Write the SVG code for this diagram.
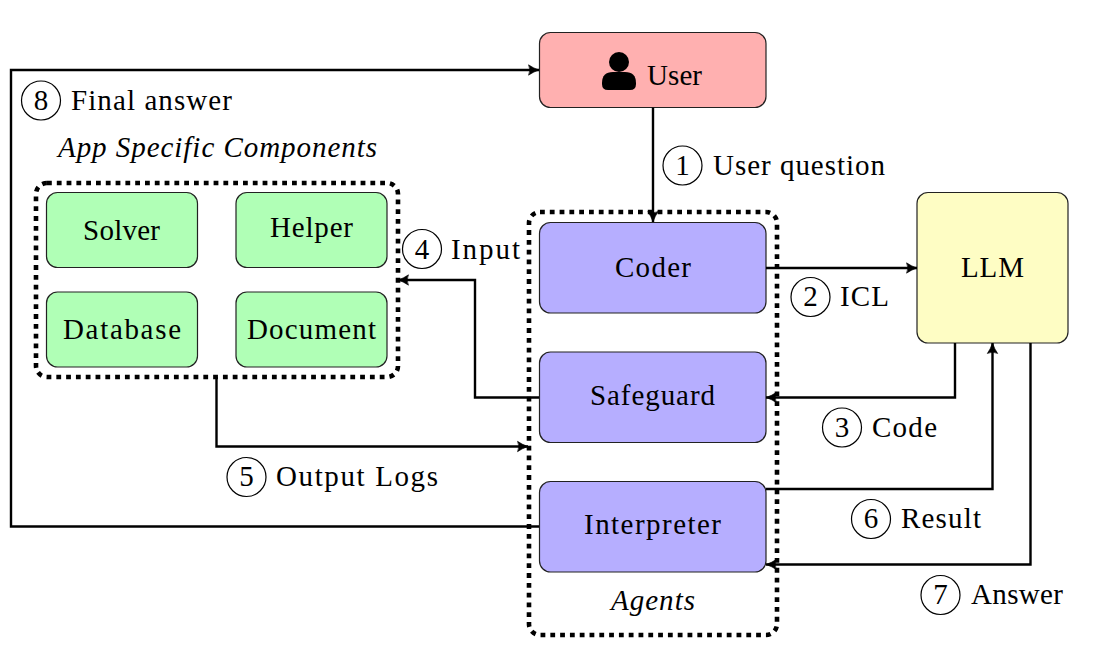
<svg xmlns="http://www.w3.org/2000/svg" width="1096" height="652" viewBox="0 0 1096 652">
<style>
text{font-family:"Liberation Serif","Times New Roman",serif;font-size:29px;fill:#000}
.i{font-style:italic}
.m{text-anchor:middle}
.n{stroke:#222;stroke-width:1.2}
.u{fill:#ffb0b0}.a{fill:#b6aeff}.g{fill:#b0ffb6}.l{fill:#fefdc4}
.d{fill:none;stroke:#000;stroke-width:4.6;stroke-dasharray:4.8 5}
.c{fill:none;stroke:#000;stroke-width:2.4;marker-end:url(#h)}
.b{fill:#fff;stroke:#000;stroke-width:1.2}
</style>
<defs>
<marker id="h" markerUnits="userSpaceOnUse" markerWidth="14" markerHeight="14" refX="11" refY="7" orient="auto">
<path d="M0.5 1.8Q5 5 11 7Q5 9 0.5 12.200Q3.200 7 0.5 1.800Z" fill="#000" stroke="#000" stroke-width="0.6"/>
</marker>
</defs>
<g id="agents-group"><rect class="d" x="529" y="212" width="248" height="423" rx="11"/><text class="i" x="611" y="610" textLength="84">Agents</text></g>
<g id="app-group"><rect class="d" x="36" y="183" width="362" height="194" rx="11"/><text class="i" x="58" y="157" textLength="319">App Specific Components</text></g>
<g id="user"><rect class="n u" x="539.500" y="32.500" width="226.500" height="75" rx="11"/><circle cx="619" cy="62" r="10"/><path d="M602 84V83Q602 72 613 72H625Q636 72 636 83V84Q636 90 630 90H608Q602 90 602 84Z"/><text x="647" y="85" textLength="55">User</text></g>
<g id="coder"><rect class="n a" x="539.500" y="222.500" width="226.500" height="90.500" rx="11"/><text x="615" y="277" textLength="76">Coder</text></g>
<g id="safeguard"><rect class="n a" x="539.500" y="352" width="226.500" height="90.500" rx="11"/><text x="590" y="405" textLength="125">Safeguard</text></g>
<g id="interpreter"><rect class="n a" x="539.500" y="481.500" width="226.500" height="90.500" rx="11"/><text x="584" y="534" textLength="137">Interpreter</text></g>
<g id="llm"><rect class="n l" x="917" y="192.500" width="151" height="150.500" rx="11"/><text x="961" y="277" textLength="63">LLM</text></g>
<g id="solver"><rect class="n g" x="46.500" y="192.500" width="151" height="75" rx="11"/><text x="83" y="240" textLength="77">Solver</text></g>
<g id="helper"><rect class="n g" x="236" y="192.500" width="151" height="75" rx="11"/><text x="270" y="237" textLength="83">Helper</text></g>
<g id="database"><rect class="n g" x="46.500" y="292" width="151" height="75" rx="11"/><text x="63" y="339" textLength="118">Database</text></g>
<g id="document"><rect class="n g" x="236" y="292" width="151" height="75" rx="11"/><text x="247" y="339" textLength="129">Document</text></g>
<g id="connectors">
<path class="c" d="M653 107.500V222"/>
<path class="c" d="M766 268H917"/>
<path class="c" d="M955 343V397.500H766"/>
<path class="c" d="M539 397.500H475V280H398"/>
<path class="c" d="M216.500 377V446.500H528"/>
<path class="c" d="M766 489H992.500V343"/>
<path class="c" d="M1030.500 343V564.500H766"/>
<path class="c" d="M539 526.500H11V70H539"/>
</g>
<g id="label-1"><circle class="b" cx="682.500" cy="165.500" r="19.500"/><text class="m" x="682.500" y="175">1</text><text x="713" y="175" textLength="172">User question</text></g>
<g id="label-2"><circle class="b" cx="810.500" cy="297" r="19.500"/><text class="m" x="810.500" y="306">2</text><text x="840" y="306" textLength="49">ICL</text></g>
<g id="label-3"><circle class="b" cx="842" cy="427.500" r="19.500"/><text class="m" x="842" y="437">3</text><text x="872" y="437" textLength="65">Code</text></g>
<g id="label-4"><circle class="b" cx="422" cy="249" r="19.500"/><text class="m" x="422" y="258.500">4</text><text x="451" y="258.500" textLength="69">Input</text></g>
<g id="label-5"><circle class="b" cx="246.500" cy="477" r="19.500"/><text class="m" x="246.500" y="486">5</text><text x="276" y="486" textLength="162">Output Logs</text></g>
<g id="label-6"><circle class="b" cx="871" cy="519" r="19.500"/><text class="m" x="871" y="528">6</text><text x="901" y="528" textLength="80">Result</text></g>
<g id="label-7"><circle class="b" cx="940.500" cy="595" r="19.500"/><text class="m" x="940.500" y="604">7</text><text x="971" y="604" textLength="92">Answer</text></g>
<g id="label-8"><circle class="b" cx="41" cy="100.500" r="19.500"/><text class="m" x="41" y="110">8</text><text x="71" y="110" textLength="161">Final answer</text></g>
</svg>
